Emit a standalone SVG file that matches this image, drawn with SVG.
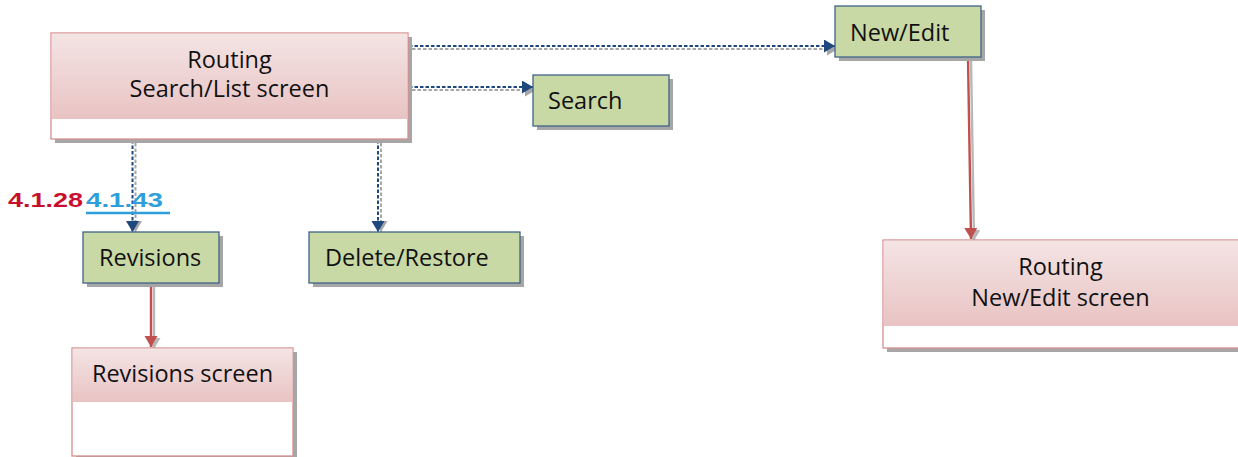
<svg xmlns="http://www.w3.org/2000/svg" width="1238" height="457" viewBox="0 0 1238 457">
<style>
.txt{font-family:"Open Sans","DejaVu Sans",sans-serif;font-size:23.5px;fill:#111}
.shadow{fill:#a6a6a6}
.pinkbox{fill:#fff;stroke:#d68f8f;stroke-width:1.3}
.pinkhead{fill:url(#pg)}
.greenbox{fill:#c9d9a6;stroke:#3f6388;stroke-width:1.3}
.dash{fill:none;stroke:#1f497d;stroke-width:2;stroke-dasharray:3.5 2}
.dashsh{fill:none;stroke:#a6a6a6;stroke-width:2;stroke-dasharray:3.5 2}
.red{fill:none;stroke:#c0504d;stroke-width:2.4}
.redsh{fill:none;stroke:#b8b8b8;stroke-width:2.4}
.id{font-family:"Liberation Sans",Arial,sans-serif;font-weight:bold;font-size:21px}
</style>
<defs>
<linearGradient id="pg" x1="0" y1="0" x2="0" y2="1">
<stop offset="0" stop-color="#f4e4e4"/>
<stop offset="1" stop-color="#e9c3c3"/>
</linearGradient>
<marker id="ab" markerUnits="userSpaceOnUse" markerWidth="14" markerHeight="14" refX="11" refY="6.5" orient="auto"><path d="M0,0 L11,6.5 L0,13 Z" fill="#1f497d"/></marker>
<marker id="as" markerUnits="userSpaceOnUse" markerWidth="14" markerHeight="14" refX="11" refY="6.5" orient="auto"><path d="M0,0 L11,6.5 L0,13 Z" fill="#a6a6a6"/></marker>
<marker id="ar" markerUnits="userSpaceOnUse" markerWidth="14" markerHeight="14" refX="11" refY="6.5" orient="auto"><path d="M0,0 L11,6.5 L0,13 Z" fill="#c0504d"/></marker>
<marker id="ars" markerUnits="userSpaceOnUse" markerWidth="14" markerHeight="14" refX="11" refY="6.5" orient="auto"><path d="M0,0 L11,6.5 L0,13 Z" fill="#b8b8b8"/></marker>
</defs>
<rect width="1238" height="457" fill="#fff"/>

<g id="connectors">
<g transform="translate(3,3)">
<line class="dashsh" x1="409" y1="46" x2="835" y2="46" marker-end="url(#as)"/>
<line class="dashsh" x1="409" y1="87" x2="533" y2="87" marker-end="url(#as)"/>
<line class="dashsh" x1="132.5" y1="140" x2="132.5" y2="229" marker-end="url(#as)"/>
<line class="dashsh" x1="378" y1="140" x2="378" y2="229" marker-end="url(#as)"/>
</g>
<line class="dash" x1="409" y1="46" x2="835" y2="46" marker-end="url(#ab)"/>
<line class="dash" x1="409" y1="87" x2="533" y2="87" marker-end="url(#ab)"/>
<line class="dash" x1="132.5" y1="140" x2="132.5" y2="232" marker-end="url(#ab)"/>
<line class="dash" x1="378" y1="140" x2="378" y2="232" marker-end="url(#ab)"/>
<line class="redsh" x1="971" y1="58" x2="974" y2="241" marker-end="url(#ars)"/>
<line class="red" x1="968" y1="58" x2="971" y2="239" marker-end="url(#ar)"/>
<line class="redsh" x1="154" y1="284" x2="154" y2="349" marker-end="url(#ars)"/>
<line class="red" x1="151" y1="284" x2="151" y2="347" marker-end="url(#ar)"/>
</g>

<g id="node-routing-search">
<rect class="shadow" x="55" y="37" width="357" height="106"/>
<rect class="pinkbox" x="51" y="33" width="357" height="106"/>
<rect class="pinkhead" x="51.7" y="33.7" width="355.6" height="85.3"/>
<text class="txt" x="229.5" y="68" text-anchor="middle">Routing</text>
<text class="txt" x="229.5" y="97" text-anchor="middle">Search/List screen</text>
</g>

<g id="node-search">
<rect class="shadow" x="537" y="79" width="136" height="51"/>
<rect class="greenbox" x="533" y="75" width="136" height="51"/>
<text class="txt" x="548" y="109">Search</text>
</g>

<g id="node-newedit">
<rect class="shadow" x="839" y="10" width="146" height="51"/>
<rect class="greenbox" x="835" y="6" width="146" height="51"/>
<text class="txt" x="850" y="41">New/Edit</text>
</g>

<g id="node-routing-newedit">
<rect class="shadow" x="887" y="244" width="360" height="108"/>
<rect class="pinkbox" x="883" y="240" width="360" height="108"/>
<rect class="pinkhead" x="883.7" y="240.7" width="358" height="85.3"/>
<text class="txt" x="1060.5" y="275" text-anchor="middle">Routing</text>
<text class="txt" x="1060.5" y="306" text-anchor="middle">New/Edit screen</text>
</g>

<g id="node-revisions">
<rect class="shadow" x="87" y="236" width="136" height="51"/>
<rect class="greenbox" x="83" y="232" width="136" height="51"/>
<text class="txt" x="99" y="266">Revisions</text>
</g>

<g id="node-delete">
<rect class="shadow" x="313" y="236" width="211" height="51"/>
<rect class="greenbox" x="309" y="232" width="211" height="51"/>
<text class="txt" x="325" y="266">Delete/Restore</text>
</g>

<g id="node-revisions-screen">
<rect class="shadow" x="76" y="352" width="221" height="108"/>
<rect class="pinkbox" x="72" y="348" width="221" height="108"/>
<rect class="pinkhead" x="72.7" y="348.7" width="219.6" height="53.3"/>
<text class="txt" x="182.5" y="382" text-anchor="middle">Revisions screen</text>
</g>

<g id="label-ids">
<text class="id" x="8" y="207" fill="#c8102e" textLength="75" lengthAdjust="spacingAndGlyphs">4.1.28</text>
<text class="id" x="86" y="207" fill="#2e9fdb" textLength="77" lengthAdjust="spacingAndGlyphs">4.1.43</text>
<line x1="86" y1="213" x2="170" y2="213" stroke="#2e9fdb" stroke-width="2.5"/>
</g>
</svg>
